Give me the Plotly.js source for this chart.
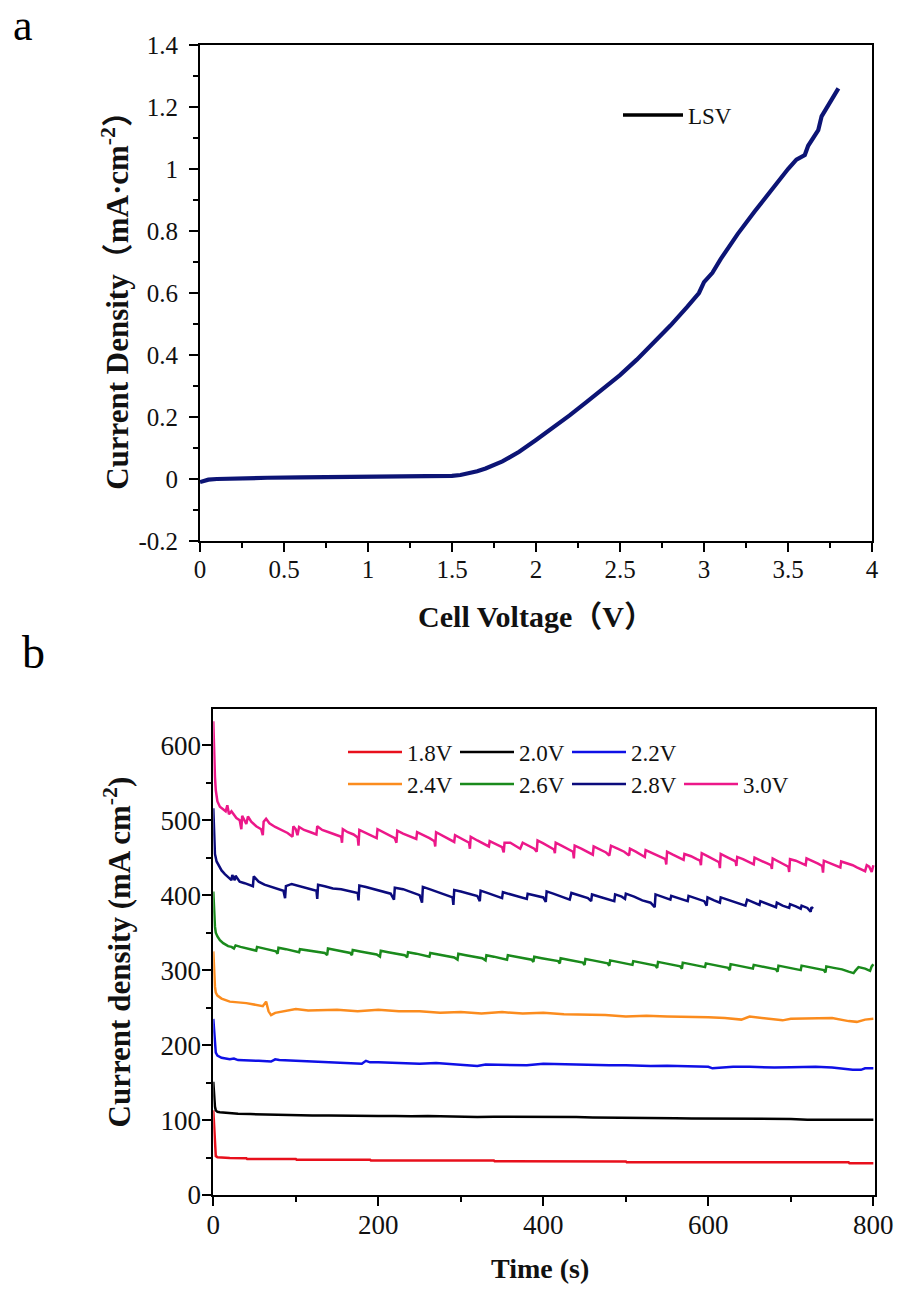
<!DOCTYPE html>
<html>
<head>
<meta charset="utf-8">
<script src="https://cdn.plot.ly/plotly-3.0.1.min.js"></script>
<style>html,body{margin:0;padding:0;background:#fff;}#chart{width:898px;height:1290px;}</style>
</head>
<body>
<div id="chart"></div>
<script>
// ---------- Panel a : LSV ----------
const lsvVoltage = [0, 0.02, 0.05, 0.1, 0.2, 0.4, 0.6, 0.8, 1.0, 1.2, 1.4, 1.5, 1.55, 1.6, 1.65, 1.7, 1.75, 1.8, 1.85, 1.9, 2.0, 2.1, 2.2, 2.3, 2.4, 2.5, 2.6, 2.7, 2.8, 2.9, 2.97, 3.0, 3.05, 3.1, 3.2, 3.3, 3.4, 3.5, 3.55, 3.58, 3.6, 3.62, 3.65, 3.68, 3.7, 3.75, 3.8];
const lsvCurrent = [-0.01, -0.006, -0.002, 0.0, 0.002, 0.004, 0.005, 0.006, 0.007, 0.007, 0.008, 0.01, 0.013, 0.018, 0.025, 0.034, 0.045, 0.057, 0.072, 0.088, 0.126, 0.165, 0.205, 0.248, 0.29, 0.335, 0.385, 0.44, 0.495, 0.555, 0.6, 0.635, 0.665, 0.71, 0.79, 0.862, 0.932, 1.0, 1.03, 1.04, 1.045, 1.075, 1.1, 1.125, 1.17, 1.215, 1.26];
const aYTickVals = [-0.2, 0, 0.2, 0.4, 0.6, 0.8, 1, 1.2, 1.4];
const aYTickText = ['-0.2', '0', '0.2', '0.4', '0.6', '0.8', '1', '1.2', '1.4'];

// ---------- Panel b : chronoamperometry ----------
const t18 = [0, 0.5, 1, 1.5, 2, 3, 5, 10, 20, 40, 41, 100, 101, 190, 191, 340, 341, 500, 501, 770, 771, 800];
const j18 = [113, 100, 85, 68, 57, 52, 50.5, 50, 49.5, 49, 48, 48, 47, 47, 46, 46, 45, 44.8, 43.8, 43.6, 42.5, 42.3];

const t20 = [0, 0.5, 1, 2, 3, 5, 8, 12, 20, 30, 45, 60, 80, 100, 120, 140, 160, 180, 200, 220, 240, 260, 280, 300, 320, 340, 360, 380, 400, 420, 440, 460, 480, 500, 520, 540, 560, 580, 600, 620, 640, 660, 680, 700, 720, 740, 760, 780, 800];
const j20 = [151, 140, 128, 118, 113, 111, 110.5, 110, 109, 108.5, 108, 107.5, 107, 107, 106, 106, 105.5, 106, 105.5, 105.5, 105, 105.5, 105, 105, 104, 104.5, 104.5, 104, 105, 104.5, 104, 103.5, 103.5, 103, 103, 102.5, 102.5, 102, 102, 101.5, 101.5, 101.5, 101, 101.5, 100.5, 101, 100.5, 100.5, 100.5];

const t22 = [0, 1, 2, 3, 5, 10, 20, 25, 30, 40, 55, 70, 75, 80, 100, 120, 150, 180, 185, 190, 200, 230, 250, 270, 300, 320, 330, 350, 380, 400, 430, 450, 480, 500, 530, 550, 580, 600, 605, 630, 650, 680, 700, 730, 750, 775, 785, 790, 800];
const j22 = [235, 215, 198, 190, 186, 183, 181, 182, 180, 180, 179, 178, 181, 180, 179, 178, 177, 175, 179, 177, 177, 176, 175, 176, 174, 172, 174, 174, 173, 175, 174, 174, 173, 173, 172, 172.5, 172, 171, 169, 171, 171, 170, 170.5, 171, 170, 167, 167, 169, 169];

const t24 = [0, 1, 2, 3, 5, 10, 20, 30, 40, 60, 64, 67, 70, 75, 85, 100, 115, 130, 150, 175, 200, 225, 250, 275, 300, 325, 350, 375, 400, 425, 450, 475, 500, 525, 550, 575, 600, 620, 640, 650, 670, 690, 700, 725, 750, 770, 780, 790, 800];
const j24 = [325, 290, 278, 270, 266, 262, 258, 257, 256, 252, 258, 245, 240, 243, 245, 248, 246, 246, 247, 245, 247, 245, 245, 243, 244, 242, 244, 242, 243, 241, 241, 240, 238, 239, 238, 238, 237, 236, 234, 238, 236, 233, 235, 235, 236, 232, 231, 234, 235];

const t26 = [0, 0.5, 1, 2, 3, 5, 8, 12, 18, 22, 25, 27, 33, 40, 48, 52, 53, 60, 68, 76, 78, 79, 88, 98, 104, 105, 115, 125, 135, 138, 139, 148, 158, 166, 168, 169, 178, 188, 198, 202, 203, 212, 222, 232, 235, 236, 246, 256, 262, 263, 272, 282, 292, 296, 297, 306, 316, 326, 330, 331, 340, 350, 356, 357, 366, 376, 386, 388, 389, 398, 408, 418, 420, 421, 430, 440, 448, 450, 451, 460, 470, 478, 480, 481, 490, 500, 508, 509, 518, 528, 536, 538, 539, 548, 558, 566, 568, 569, 578, 588, 596, 597, 606, 616, 624, 626, 627, 636, 646, 654, 655, 664, 674, 682, 684, 685, 694, 704, 712, 713, 722, 732, 740, 742, 743, 752, 762, 770, 776, 778, 782, 790, 796, 798, 800];
const j26 = [405, 385, 370, 358, 350, 345, 340, 336, 332, 331, 329, 333, 331, 329, 327, 326, 331, 329, 327, 325, 322, 330, 328, 326, 324, 328, 326, 325, 323, 320, 329, 327, 325, 323, 320, 327, 325, 323, 321, 318, 326, 324, 322, 320, 317, 324, 322, 320, 318, 323, 321, 319, 317, 314, 322, 320, 318, 316, 313, 320, 318, 316, 314, 320, 318, 316, 314, 311, 318, 316, 314, 312, 309, 316, 314, 312, 310, 307, 315, 313, 311, 309, 306, 313, 311, 309, 307, 312, 310, 308, 306, 303, 311, 309, 307, 305, 302, 310, 308, 306, 304, 309, 307, 305, 303, 300, 308, 306, 304, 302, 307, 305, 303, 301, 298, 306, 304, 302, 300, 306, 304, 302, 300, 297, 305, 303, 301, 298, 296, 299, 304, 302, 299, 305, 308];

const t28 = [0, 0.5, 1, 2, 4, 7, 10, 14, 18, 22, 23, 26, 27, 32, 38, 44, 48, 49, 55, 62, 70, 78, 85, 87, 88, 95, 105, 115, 125, 126, 127, 135, 145, 155, 165, 175, 176, 177, 185, 195, 205, 215, 219, 220, 230, 240, 250, 253, 254, 262, 272, 282, 290, 291, 292, 300, 310, 320, 323, 324, 332, 342, 350, 351, 360, 370, 380, 381, 390, 400, 403, 404, 412, 422, 432, 434, 444, 454, 458, 459, 468, 478, 486, 487, 495, 499, 500, 510, 520, 530, 535, 536, 545, 554, 555, 565, 575, 576, 585, 595, 598, 599, 607, 614, 615, 625, 635, 645, 647, 655, 662, 663, 672, 682, 683, 690, 698, 699, 706, 712, 713, 720, 724, 725, 727];
const j28 = [516, 490, 470, 455, 445, 438, 433, 428, 424, 420, 427, 420, 426, 418, 416, 414, 412, 425, 418, 414, 411, 409, 406, 396, 412, 415, 412, 409, 406, 395, 414, 412, 409, 408, 406, 403, 393, 413, 411, 408, 405, 402, 394, 410, 408, 404, 400, 390, 411, 408, 404, 400, 397, 387, 407, 405, 402, 399, 392, 406, 403, 399, 396, 404, 401, 398, 395, 402, 400, 397, 391, 405, 402, 398, 394, 403, 400, 396, 392, 401, 398, 395, 392, 401, 398, 395, 402, 398, 393, 390, 384, 401, 397, 394, 399, 395, 392, 399, 396, 392, 386, 397, 393, 390, 397, 393, 389, 386, 394, 390, 387, 392, 388, 384, 390, 386, 383, 388, 385, 382, 386, 383, 378, 384, 382];

const t30 = [0, 0.5, 1, 2, 3, 5, 8, 12, 15, 17, 19, 22, 25, 28, 32, 34, 35, 38, 40, 42, 46, 52, 58, 60, 61, 64, 68, 75, 82, 90, 96, 97, 100, 102, 104, 110, 118, 125, 126, 132, 140, 148, 155, 156, 157, 163, 170, 175, 176, 177, 185, 192, 198, 199, 206, 214, 220, 222, 223, 230, 238, 246, 247, 255, 262, 268, 269, 270, 278, 286, 292, 293, 300, 306, 310, 311, 312, 320, 328, 334, 335, 342, 350, 352, 353, 360, 366, 372, 375, 382, 389, 392, 393, 400, 407, 413, 414, 415, 422, 430, 436, 437, 438, 446, 454, 460, 461, 468, 476, 480, 482, 490, 498, 504, 505, 512, 519, 523, 524, 532, 540, 548, 549, 550, 557, 564, 570, 571, 579, 586, 590, 591, 592, 599, 607, 613, 614, 615, 622, 629, 633, 634, 635, 642, 650, 655, 656, 663, 670, 676, 677, 678, 685, 692, 697, 698, 699, 706, 713, 718, 719, 726, 733, 738, 739, 740, 747, 754, 760, 761, 768, 775, 780, 785, 790, 792, 795, 798, 800];
const j30 = [632, 600, 575, 558, 540, 525, 518, 515, 512, 520, 508, 512, 507, 503, 500, 488, 506, 499, 495, 505, 498, 492, 488, 480, 498, 502, 496, 491, 487, 483, 478, 492, 488, 480, 491, 487, 484, 481, 492, 487, 484, 481, 478, 470, 488, 484, 481, 477, 466, 487, 483, 480, 476, 488, 484, 480, 476, 470, 486, 482, 478, 475, 484, 480, 476, 472, 465, 484, 479, 475, 471, 480, 476, 472, 470, 462, 478, 473, 469, 465, 472, 468, 464, 457, 470, 470, 466, 462, 470, 466, 462, 458, 473, 469, 465, 461, 456, 470, 466, 462, 458, 449, 466, 462, 458, 454, 465, 461, 457, 453, 466, 462, 458, 453, 462, 458, 454, 451, 460, 456, 452, 448, 441, 458, 454, 450, 447, 455, 452, 448, 446, 440, 456, 452, 448, 444, 436, 455, 451, 447, 445, 439, 451, 448, 444, 441, 450, 447, 443, 440, 435, 449, 445, 441, 438, 431, 448, 446, 442, 440, 449, 446, 442, 439, 430, 446, 443, 440, 437, 445, 443, 440, 437, 435, 432, 440, 438, 431, 440];

const seriesNames = ['1.8V', '2.0V', '2.2V', '2.4V', '2.6V', '2.8V', '3.0V'];
const seriesColors = ['#e8101c', '#000000', '#0f10e6', '#fb8c1e', '#1a8a1c', '#0b0b7c', '#ec1889'];
const seriesT = [t18, t20, t22, t24, t26, t28, t30];
const seriesJ = [j18, j20, j22, j24, j26, j28, j30];
const seriesLegend = ['legend', 'legend', 'legend', 'legend2', 'legend2', 'legend2', 'legend2'];

const W = 898, H = 1290;
const px = v => v / W;
const py = v => 1 - v / H;
const serif = '"Liberation Serif", "Times New Roman", "Noto Sans CJK SC", serif';

const traces = [];
traces.push({
  x: lsvVoltage, y: lsvCurrent, type: 'scatter', mode: 'lines', name: 'LSV',
  line: {color: '#0c1475', width: 4.2}, xaxis: 'x', yaxis: 'y', showlegend: false
});
traces.push({
  x: [null], y: [null], type: 'scatter', mode: 'lines', name: 'LSV',
  line: {color: '#000000', width: 3.5}, xaxis: 'x', yaxis: 'y', legend: 'legend3'
});
for (let i = 0; i < seriesNames.length; i++) {
  traces.push({
    x: seriesT[i], y: seriesJ[i], type: 'scatter', mode: 'lines', name: seriesNames[i],
    line: {color: seriesColors[i], width: 2.5}, xaxis: 'x2', yaxis: 'y2', legend: seriesLegend[i]
  });
}

const axCommon = {
  showline: true, linecolor: '#000', linewidth: 2, mirror: true,
  ticks: 'outside', ticklen: 9, tickwidth: 2, tickcolor: '#000',
  showgrid: false, zeroline: false, automargin: false,
  tickfont: {family: serif, size: 25, color: '#111'},
};

const legendCommon = {
  orientation: 'h', xref: 'container', yref: 'container', xanchor: 'left', yanchor: 'middle',
  itemwidth: 54, bgcolor: 'rgba(0,0,0,0)', borderwidth: 0,
  font: {family: serif, size: 23, color: '#111'}, tracegroupgap: 0,
  entrywidth: 43, entrywidthmode: 'pixels', itemclick: false
};

const layout = {
  width: W, height: H,
  margin: {l: 0, r: 0, t: 0, b: 0, autoexpand: false},
  paper_bgcolor: '#fff', plot_bgcolor: '#fff',
  font: {family: serif, color: '#111'},
  xaxis: Object.assign({}, axCommon, {
    domain: [px(200), px(872)], range: [0, 4], tick0: 0, dtick: 0.5, anchor: 'y',
    minor: {dtick: 0.25, ticks: 'outside', ticklen: 5, tickwidth: 2, tickcolor: '#000'},
    ticklabelstandoff: -4,
    title: {text: 'Cell Voltage（V）', font: {family: serif, size: 30, color: '#111', weight: 'bold'}, standoff: 24}
  }),
  yaxis: Object.assign({}, axCommon, {
    domain: [py(541), py(45)], range: [-0.2, 1.4], tickmode: 'array', tickvals: aYTickVals, ticktext: aYTickText, anchor: 'x',
    minor: {dtick: 0.1, ticks: 'outside', ticklen: 5, tickwidth: 2, tickcolor: '#000'},
    ticklabelstandoff: 6,
    title: {text: 'Current Density（mA·cm<sup>-2</sup>）', font: {family: serif, size: 31, color: '#111', weight: 'bold'}, standoff: 1}
  }),
  xaxis2: Object.assign({}, axCommon, {
    domain: [px(213.3), px(875)], range: [0, 802], tick0: 0, dtick: 200, anchor: 'y2',
    minor: {dtick: 100, ticks: 'outside', ticklen: 5, tickwidth: 2, tickcolor: '#000'},
    tickfont: {family: serif, size: 27, color: '#111'}, ticklabelstandoff: -4
  }),
  yaxis2: Object.assign({}, axCommon, {
    domain: [py(1195), py(709.3)], range: [0, 648], tick0: 0, dtick: 100, anchor: 'x2',
    minor: {dtick: 50, ticks: 'outside', ticklen: 5, tickwidth: 2, tickcolor: '#000'},
    tickfont: {family: serif, size: 27, color: '#111'}, ticklabelstandoff: -4,
    title: {text: 'Current density (mA cm<sup>-2</sup>)', font: {family: serif, size: 31, color: '#111', weight: 'bold'}, standoff: 21}
  }),
  legend: Object.assign({}, legendCommon, {x: px(343), y: py(752)}),
  legend2: Object.assign({}, legendCommon, {x: px(343), y: py(784)}),
  legend3: Object.assign({}, legendCommon, {x: px(618), y: py(115), itemwidth: 60, entrywidth: 0}),
  annotations: [
    {text: 'a', xref: 'paper', yref: 'paper', x: px(11), y: py(25), xanchor: 'left', yanchor: 'middle', showarrow: false, font: {family: serif, size: 44, color: '#000'}},
    {text: 'b', xref: 'paper', yref: 'paper', x: px(20), y: py(652), xanchor: 'left', yanchor: 'middle', showarrow: false, font: {family: serif, size: 46, color: '#000'}},
    {text: 'Time (s)', xref: 'paper', yref: 'paper', x: px(540), y: py(1268), xanchor: 'center', yanchor: 'middle', showarrow: false, font: {family: serif, size: 28, color: '#111', weight: 'bold'}}
  ]
};

Plotly.newPlot('chart', traces, layout, {displayModeBar: false, staticPlot: true});
</script>
</body>
</html>
